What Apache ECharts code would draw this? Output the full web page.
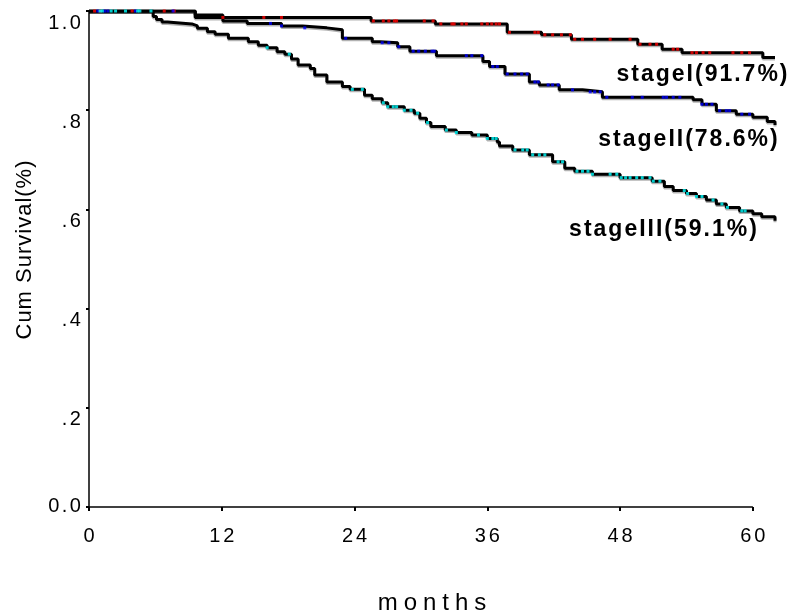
<!DOCTYPE html>
<html>
<head>
<meta charset="utf-8">
<title>Cum Survival by stage</title>
<script src="https://cdn.jsdelivr.net/npm/echarts@6/dist/echarts.min.js"></script>
<style>
  html, body { margin: 0; padding: 0; background: #fff; }
  #main { width: 794px; height: 613px; }
</style>
</head>
<body>
<div id="main"></div>
<script>
// 坐标轴刻度
var monthTicks = [0, 12, 24, 36, 48, 60];
var survTicks = ['0.0', '.2', '.4', '.6', '.8', '1.0'];

// 生存曲线 [月, 累积生存率]，读图估计
var stageI = [
  [0, 1.0], [9.6, 0.992], [12.1, 0.987], [25.5, 0.980], [31.3, 0.974],
  [37.8, 0.957], [40.9, 0.952], [43.6, 0.943], [49.6, 0.933], [51.8, 0.923],
  [53.6, 0.916], [60.9, 0.906], [62.0, 0.906]
];
var stageII = [
  [0, 1.0], [9.6, 0.987], [12.1, 0.980], [14.3, 0.975], [17.4, 0.970],
  [19.3, 0.966], [21.5, 0.962], [22.9, 0.945], [25.6, 0.938], [26.3, 0.936],
  [27.9, 0.928], [29.0, 0.919], [31.4, 0.910], [35.6, 0.898], [36.2, 0.888],
  [37.6, 0.873], [39.8, 0.857], [40.7, 0.851], [42.5, 0.841], [44.6, 0.837],
  [46.4, 0.826], [54.6, 0.821], [55.4, 0.812], [56.7, 0.799], [58.5, 0.792],
  [60.0, 0.786], [61.3, 0.777], [62.0, 0.770]
];
var stageIII = [
  [0, 1.0], [5.8, 0.989], [6.1, 0.983], [6.6, 0.978], [7.1, 0.974],
  [9.3, 0.970], [9.8, 0.965], [10.7, 0.958], [11.4, 0.953], [12.6, 0.945],
  [14.4, 0.938], [15.3, 0.931], [16.1, 0.926], [17.0, 0.918], [17.7, 0.913],
  [18.3, 0.903], [18.9, 0.891], [20.0, 0.884], [20.4, 0.871], [21.5, 0.857],
  [22.9, 0.848], [23.6, 0.842], [24.9, 0.830], [25.6, 0.823], [26.5, 0.815],
  [27.0, 0.807], [28.5, 0.800], [29.4, 0.794], [29.9, 0.784], [30.5, 0.775],
  [30.9, 0.767], [32.2, 0.760], [33.2, 0.755], [34.6, 0.750], [36.0, 0.743],
  [36.9, 0.736], [37.1, 0.728], [38.3, 0.720], [39.8, 0.710], [41.9, 0.696],
  [43.0, 0.683], [43.9, 0.677], [45.5, 0.671], [48.0, 0.664], [50.9, 0.657],
  [52.0, 0.646], [52.8, 0.638], [54.0, 0.632], [54.9, 0.626], [55.8, 0.619],
  [56.7, 0.611], [57.6, 0.604], [58.8, 0.597], [60.0, 0.591], [60.8, 0.585],
  [62.0, 0.577]
];

// 删失时间（月）
var censorI = [0.5, 1.0, 3.9, 6.8, 7.7, 12.1, 15.8, 17.4, 25.7, 26.6, 27.1, 27.6, 27.8,
  30.3, 31.1, 31.8, 32.8, 33.0, 33.7, 34.1, 35.5, 36.0, 36.4, 36.8, 37.1, 38.0, 40.3,
  40.6, 41.2, 41.9, 42.7, 43.5, 43.9, 44.6, 45.7, 47.1, 48.9, 49.8, 50.7, 51.3, 52.8,
  53.2, 54.5, 54.9, 55.5, 56.1, 58.2, 59.0, 59.7];
var censorII = [0.8, 1.4, 1.7, 4.2, 7.6, 16.4, 17.4, 19.5, 23.2, 26.5, 27.1, 28.0, 29.3,
  29.8, 30.4, 31.0, 31.2, 34.1, 34.6, 35.5, 36.5, 36.9, 37.8, 38.5, 39.1, 39.6, 40.3,
  40.6, 41.5, 41.9, 42.4, 43.7, 45.3, 45.7, 46.2, 46.8, 49.1, 50.0, 51.9, 52.2, 52.8,
  53.4, 55.4, 55.8, 56.3, 57.0, 57.6, 57.9, 59.0, 59.7];
var censorIII = [1.0, 1.2, 2.0, 2.4, 3.3, 4.4, 4.6, 5.6, 16.1, 18.1, 23.8, 24.7, 26.6,
  27.0, 27.5, 27.8, 28.5, 29.1, 29.7, 30.6, 32.3, 33.2, 35.2, 36.0, 36.5, 36.8, 38.5,
  39.2, 39.6, 40.1, 40.7, 41.2, 42.4, 42.8, 44.1, 44.6, 45.1, 45.5, 47.1, 47.7, 48.1,
  48.5, 48.9, 49.5, 50.0, 50.7, 51.0, 51.6, 53.8, 54.1, 54.9, 55.4, 56.4, 57.2, 57.7,
  59.0, 59.3];

var stageLabels = ['stageI(91.7%)', 'stageII(78.6%)', 'stageIII(59.1%)'];

// 删失点落在曲线上
function onCurve(curve, times) {
  return times.map(function (t) {
    var s = curve[0][1];
    for (var i = 0; i < curve.length; i++) {
      if (curve[i][0] <= t) s = curve[i][1];
    }
    return [t, s];
  });
}

// 字间距：每个字符单独一个 rich 片段
function spaced(text, key) {
  return text.split('').map(function (c) { return '{' + key + '|' + c + '}'; }).join('');
}

function kmLine(data) {
  return {
    type: 'line',
    step: 'end',
    data: data,
    symbol: 'none',
    silent: true,
    lineStyle: { color: '#000', width: 3, shadowColor: 'rgba(0,0,0,0.3)', shadowOffsetY: 1.5 },
    z: 2
  };
}

function censorDots(data, color) {
  return {
    type: 'scatter',
    data: data,
    symbol: 'rect',
    symbolSize: [3, 3],
    itemStyle: { color: color },
    silent: true,
    z: 3
  };
}

var chart = echarts.init(document.getElementById('main'));
var font = 'Liberation Sans, Arial, sans-serif';

function stageText(x, y, txt) {
  return {
    type: 'text', x: x, y: y,
    style: {
      text: spaced(txt, 'b'),
      align: 'center', verticalAlign: 'middle',
      rich: { b: { fontFamily: font, fontSize: 23, fontWeight: 'bold', fill: '#000', color: '#000', padding: [0, 1] } }
    }
  };
}

var lineI = kmLine(stageI);
// x 轴线只画到 60 月
lineI.markLine = {
  silent: true,
  symbol: 'none',
  animation: false,
  label: { show: false },
  lineStyle: { color: '#000', width: 1.5, type: 'solid' },
  data: [[{ coord: [monthTicks[0], 0] }, { coord: [monthTicks[monthTicks.length - 1], 0] }]]
};

var option = {
  animation: false,
  backgroundColor: '#fff',
  grid: { left: 89, right: 19, top: 11, bottom: 106, containLabel: false, outerBoundsMode: 'none' },
  xAxis: {
    type: 'value',
    min: 0,
    max: 62,
    interval: 12,
    name: spaced('months', 'm'),
    nameLocation: 'middle',
    nameGap: 84,
    nameTextStyle: {
      fontFamily: font, fontSize: 24, color: '#000',
      rich: { m: { fontFamily: font, fontSize: 24, color: '#000', padding: [0, 3] } }
    },
    axisLine: { show: false },
    axisTick: { show: true, length: 4, customValues: monthTicks, lineStyle: { color: '#000', width: 2 } },
    axisLabel: {
      fontFamily: font, fontSize: 20, color: '#000', margin: 19,
      customValues: monthTicks,
      formatter: function (v) { return spaced(String(v), 't'); },
      rich: { t: { fontFamily: font, fontSize: 20, color: '#000', padding: [0, 1.5] } }
    },
    splitLine: { show: false }
  },
  yAxis: {
    type: 'value',
    min: 0,
    max: 1,
    interval: 0.2,
    name: spaced('Cum Survival(%)', 'y'),
    nameLocation: 'middle',
    nameGap: 53,
    nameTextStyle: {
      fontFamily: font, fontSize: 22, color: '#000',
      padding: [0, 0, 0, 18],
      rich: { y: { fontFamily: font, fontSize: 22, color: '#000', padding: [0, 0.5] } }
    },
    axisLine: { show: true, lineStyle: { color: '#000', width: 1.5 } },
    axisTick: { show: true, length: 3, lineStyle: { color: '#000', width: 2 } },
    axisLabel: {
      fontFamily: font, fontSize: 20, color: '#000', margin: 7,
      formatter: function (v) {
        var txt = survTicks[Math.round(v * 5)];
        return spaced(txt, v === 0 ? 'z' : 'n');
      },
      rich: {
        z: { fontFamily: font, fontSize: 20, color: '#000', padding: [0, 1.2, 2, 1.2] },
        n: { fontFamily: font, fontSize: 20, color: '#000', padding: [24, 1.2, 0, 1.2] }
      }
    },
    splitLine: { show: false }
  },
  series: [
    lineI,
    kmLine(stageII),
    kmLine(stageIII),
    censorDots(onCurve(stageI, censorI), '#ff0000'),
    censorDots(onCurve(stageII, censorII), '#0000ff'),
    censorDots(onCurve(stageIII, censorIII), '#00ffff')
  ],
  graphic: [
    stageText(702, 75, stageLabels[0]),
    stageText(688, 140, stageLabels[1]),
    stageText(663, 230, stageLabels[2])
  ]
};

chart.setOption(option);
</script>
</body>
</html>
